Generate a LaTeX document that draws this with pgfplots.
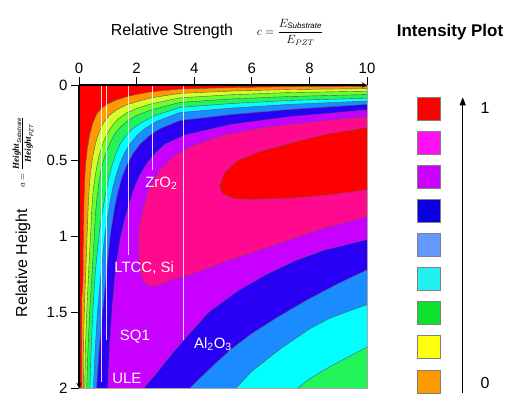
\documentclass[border=0pt]{standalone}
\usepackage{fontspec}
\setmainfont{Liberation Sans}
\newfontfamily\serif{Liberation Serif}
\usepackage{pgfplots}
\pgfplotsset{compat=1.18}
\usetikzlibrary{arrows.meta}
\definecolor{cRed}{HTML}{FF0000}
\definecolor{cOrange}{HTML}{FF9A00}
\definecolor{cYellow}{HTML}{D4FF2A}
\definecolor{cLime}{HTML}{6CFF2E}
\definecolor{cGreen}{HTML}{22F55A}
\definecolor{cCyan}{HTML}{00FFFF}
\definecolor{cLBlue}{HTML}{1A8CFF}
\definecolor{cBlue}{HTML}{2A00F5}
\definecolor{cPurple}{HTML}{C800FF}
\definecolor{cPink}{HTML}{FF0A8F}
\definecolor{lRed}{HTML}{FF0000}
\definecolor{lMag}{HTML}{FF10F0}
\definecolor{lPurple}{HTML}{CC00FF}
\definecolor{lBlue}{HTML}{0A00E0}
\definecolor{lLBlue}{HTML}{6699FF}
\definecolor{lCyan}{HTML}{20F0F0}
\definecolor{lGreen}{HTML}{10E030}
\definecolor{lYellow}{HTML}{FFFF10}
\definecolor{lOrange}{HTML}{FF9900}
\begin{document}
\begin{tikzpicture}[x=1bp,y=1bp]
\useasboundingbox (0,0) rectangle (510,396);
\begin{axis}[
  at={(79bp,8bp)}, anchor=south west,
  scale only axis, width=288bp, height=303bp,
  xmin=0, xmax=10, ymin=0, ymax=2, y dir=reverse,
  axis x line=top, axis y line=left,
  axis line style={line width=1.3bp},
  xtick={0,2,...,10}, ytick={0,0.5,1,1.5,2},
  tick align=outside, major tick length=8bp,
  tick style={black, line width=1bp},
  ticklabel style={font=\fontsize{15}{17}\selectfont},
  /pgf/number format/assume math mode=true,
  axis background/.style={fill=cRed},
  clip mode=individual,
  axis on top,
  every axis plot/.append style={draw=black!65, line width=0.4bp},
]
% orange region (inside C1)
\addplot[fill=cOrange] coordinates {(10.3,0.009) (10,0.009) (7.3,0.012) (5.3,0.017) (3.5,0.027) (2.5,0.045) (2,0.062) (1.6,0.08) (1.28,0.1) (1.0,0.125) (0.8,0.15) (0.62,0.19) (0.48,0.25) (0.37,0.33) (0.29,0.42) (0.23,0.52) (0.2,0.63) (0.17,0.8) (0.15,1.0) (0.14,1.28) (0.12,1.36) (0.09,1.42) (0.09,1.7) (0.09,2) (0.09,2.2) (10.3,2.2)};
% yellow (C2)
\addplot[fill=cYellow] coordinates {(10.3,0.024) (10,0.024) (7.3,0.03) (5.3,0.04) (3.5,0.055) (2.5,0.085) (2,0.11) (1.6,0.135) (1.3,0.165) (1.05,0.2) (0.85,0.25) (0.7,0.31) (0.58,0.38) (0.48,0.47) (0.4,0.58) (0.36,0.66) (0.32,0.8) (0.28,1.0) (0.23,1.25) (0.19,1.45) (0.16,1.7) (0.15,2) (0.15,2.2) (10.3,2.2)};
% lime (C3)
\addplot[fill=cLime] coordinates {(10.3,0.041) (10,0.041) (7.3,0.05) (5.3,0.064) (3.5,0.085) (2.5,0.125) (2,0.155) (1.65,0.185) (1.35,0.225) (1.15,0.27) (0.95,0.33) (0.8,0.4) (0.68,0.48) (0.58,0.58) (0.5,0.68) (0.45,0.8) (0.4,1.0) (0.33,1.25) (0.27,1.5) (0.22,1.75) (0.2,2) (0.2,2.2) (10.3,2.2)};
% green (C4)
\addplot[fill=cGreen] coordinates {(10.3,0.063) (10,0.063) (7.3,0.076) (5.3,0.092) (3.5,0.115) (2.5,0.165) (2,0.2) (1.7,0.235) (1.45,0.275) (1.25,0.32) (1.08,0.38) (0.93,0.45) (0.8,0.53) (0.7,0.63) (0.62,0.75) (0.57,0.85) (0.53,1.0) (0.45,1.25) (0.37,1.5) (0.31,1.75) (0.27,2) (0.27,2.2) (10.3,2.2)};
% cyan (C5 + D5)
\addplot[fill=cCyan] coordinates {(10.3,0.087) (10,0.087) (7.3,0.102) (5.3,0.122) (3.5,0.148) (2.6,0.205) (2.15,0.25) (1.85,0.29) (1.62,0.335) (1.43,0.39) (1.28,0.455) (1.14,0.535) (1.02,0.625) (0.92,0.72) (0.82,0.83) (0.72,0.95) (0.66,1.05) (0.56,1.25) (0.48,1.5) (0.42,1.75) (0.38,2) (0.38,2.2) (7.6,2.2) (7.6,2.0) (8.0,1.94) (8.7,1.86) (9.4,1.79) (10,1.73) (10.3,1.72)};
% light blue (C6 + D6)
\addplot[fill=cLBlue] coordinates {(10.3,0.106) (10,0.106) (7.3,0.128) (5.3,0.152) (3.5,0.182) (2.7,0.24) (2.3,0.285) (2.0,0.335) (1.77,0.39) (1.57,0.45) (1.42,0.52) (1.28,0.6) (1.16,0.69) (1.06,0.79) (0.97,0.9) (0.89,1.0) (0.76,1.25) (0.64,1.5) (0.56,1.75) (0.5,2) (0.5,2.2) (5.45,2.2) (5.45,2.0) (6.0,1.89) (7.0,1.74) (8.0,1.61) (8.7,1.54) (9.4,1.49) (10,1.45) (10.3,1.44)};
% blue (C7 + D7)
\addplot[fill=cBlue] coordinates {(10.3,0.128) (10,0.128) (7.3,0.162) (5.3,0.195) (3.5,0.235) (2.8,0.29) (2.4,0.34) (2.1,0.395) (1.87,0.455) (1.67,0.525) (1.5,0.605) (1.37,0.695) (1.25,0.795) (1.16,0.9) (1.08,1.0) (0.95,1.25) (0.82,1.5) (0.7,1.75) (0.61,2) (0.61,2.2) (3.85,2.2) (3.85,2.0) (4.5,1.88) (5.24,1.75) (6.0,1.64) (7.0,1.52) (8.0,1.41) (9.0,1.31) (10,1.22) (10.3,1.2)};
% purple (C8 + D8)
\addplot[fill=cPurple] coordinates {(10.3,0.165) (10,0.165) (7.3,0.21) (5.3,0.26) (3.7,0.33) (3.0,0.39) (2.65,0.45) (2.35,0.52) (2.1,0.6) (1.9,0.69) (1.72,0.8) (1.57,0.9) (1.45,1.0) (1.28,1.2) (1.16,1.45) (1.07,1.7) (1.0,2) (1.0,2.2) (2.25,2.2) (2.25,2.0) (2.7,1.9) (3.2,1.78) (3.7,1.67) (4.5,1.5) (5.5,1.36) (6.5,1.25) (7.5,1.16) (8.5,1.09) (10,1.02) (10.3,1.01)};
% pink (C9 + D9)
\addplot[fill=cPink] coordinates {(10.3,0.21) (10,0.21) (8.5,0.235) (7.3,0.26) (6.28,0.285) (5.0,0.33) (3.97,0.40) (3.3,0.47) (2.81,0.56) (2.45,0.68) (2.23,0.81) (2.1,0.93) (2.06,1.03) (2.08,1.15) (2.15,1.25) (2.28,1.31) (2.5,1.33) (2.8,1.32) (3.3,1.28) (3.97,1.245) (5.0,1.17) (6.28,1.09) (7.5,1.01) (8.6,0.94) (10,0.87) (10.3,0.86)};
% inner red (C10 + D10)
\addplot[fill=cRed] coordinates {(10.3,0.28) (10,0.28) (8.6,0.325) (7.43,0.38) (6.28,0.44) (5.5,0.5) (5.05,0.58) (4.88,0.67) (5.0,0.72) (5.4,0.75) (6.0,0.755) (7.5,0.745) (8.9,0.72) (10,0.69) (10.3,0.69)};
% material lines
\addplot[draw=white, opacity=0.85, line width=1.1bp] coordinates {(0.79,0) (0.79,1.96)};
\addplot[draw=white, opacity=0.85, line width=1.1bp] coordinates {(0.97,0) (0.97,1.68)};
\addplot[draw=white, opacity=0.85, line width=1.1bp] coordinates {(1.71,0) (1.71,1.125)};
\addplot[draw=white, opacity=0.85, line width=1.1bp] coordinates {(2.55,0) (2.55,0.563)};
\addplot[draw=white, opacity=0.85, line width=1.1bp] coordinates {(3.64,0) (3.64,1.68)};
\node[text=white, font=\fontsize{15}{17}\selectfont] at (axis cs:2.86,0.65) {ZrO\textsubscript{2}};
\node[text=white, font=\fontsize{15}{17}\selectfont] at (axis cs:2.26,1.21) {LTCC, Si};
\node[text=white, font=\fontsize{15}{17}\selectfont] at (axis cs:1.94,1.66) {SQ1};
\node[text=white, font=\fontsize{15}{17}\selectfont] at (axis cs:4.65,1.71) {Al\textsubscript{2}O\textsubscript{3}};
\node[text=white, font=\fontsize{15}{17}\selectfont] at (axis cs:1.66,1.94) {ULE};
\draw[gray!70, line width=0.6bp] (axis cs:10,0) -- (axis cs:10,2) -- (axis cs:0,2);
\end{axis}
% titles
\node[font=\fontsize{16}{18}\selectfont] at (172,365) {Relative Strength};
\node[font=\fontsize{12}{14}\selectfont] at (290,364) {$c=\displaystyle\frac{E_{\mathit{Substrate}}}{E_{PZT}}$};
\node[font=\bfseries\fontsize{17}{19}\selectfont] at (450,364) {Intensity Plot};
\node[rotate=90, font=\fontsize{16}{18}\selectfont] at (23,133) {Relative Height};
\node[rotate=90, font=\fontsize{9}{11}\selectfont] at (23,244) {$a=\displaystyle\frac{\mbox{\serif\bfseries\itshape Height}_{\mathit{Substrate}}}{\mbox{\serif\bfseries\itshape Height}_{\mathit{PZT}}}$};
% intensity legend
\foreach \c [count=\i] in {lRed,lMag,lPurple,lBlue,lLBlue,lCyan,lGreen,lYellow,lOrange} {
  \filldraw[fill=\c, draw=gray, line width=0.6bp] (416.8,{275.8-(\i-1)*34.08}) rectangle ++(23,23);
}
\draw[line width=1.1bp, -{Triangle[length=8bp,width=6bp]}] (462.7,3.5) -- (462.7,298.7);
\node[font=\fontsize{16}{18}\selectfont] at (485,288) {1};
\node[font=\fontsize{16}{18}\selectfont] at (485,13) {0};
\end{tikzpicture}
\end{document}
